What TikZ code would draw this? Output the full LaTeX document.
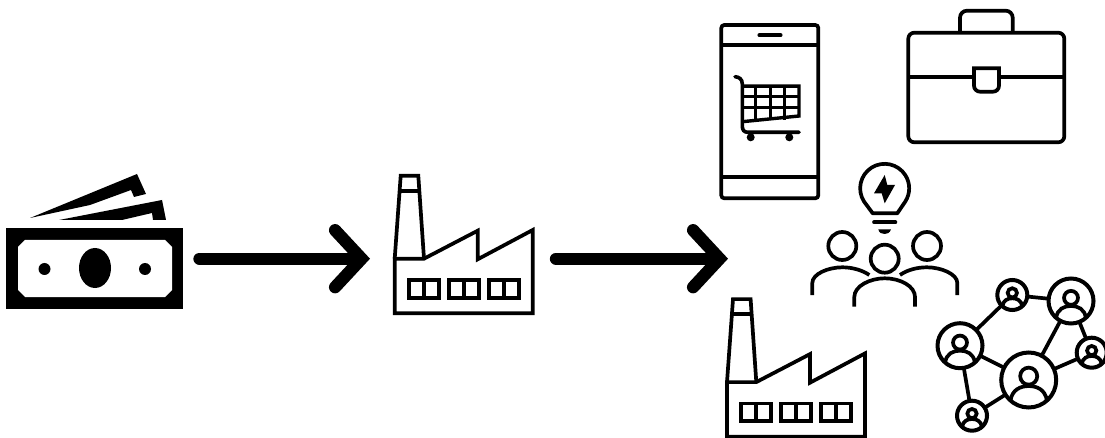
\documentclass[tikz,border=0pt]{standalone}
\usetikzlibrary{arrows.meta}
\tikzset{
  outline/.style={line width=3.7pt},
  bigarrow/.style={line width=12.3pt, line cap=round, -{Straight Barb[length=26.5pt, width=57pt, line cap=round, line join=miter]}},
  factory/.pic={
    % cheminee
    \draw[outline] (0,-54.6) -- (6,-137.6) -- (23.6,-137.6) -- (29.3,-54.6);
    \draw[outline] (5,-122.6) -- (24.6,-122.6);
    % toit et murs
    \draw[outline] (0,-54.6) -- (29.3,-54.6) -- (83,-82.6) -- (83,-54) -- (138,-83.3) -- (138,0) -- (0,0) -- cycle;
    % fenetres
    \foreach \winx in {14,54,94.3} {
      \draw[outline] (\winx,-33.3) rectangle +(30,17.7);
      \draw[outline] (\winx+15,-33.3) -- +(0,17.7);
    }
  },
  contact/.pic={
    \draw[line width=3.7pt] (0,-.14) circle[radius=.31];
    \draw[line width=3.7pt] (-.66,.74) .. controls (-.6,.35) and (-.3,.22) .. (0,.22) .. controls (.3,.22) and (.6,.35) .. (.66,.74);
  },
  member/.style={draw, circle, line width=4pt, inner sep=0pt, outer sep=0pt},
}
\begin{document}
\begin{tikzpicture}[x=1pt, y=-1pt]
\useasboundingbox (0,0) rectangle (1105,438);
% Billets
\node[fill=black, inner sep=0pt, minimum width=177pt, minimum height=81pt] (money) at (94.5,268.5) {};
\fill[white] (25,240) -- (165,240) -- (172,247) -- (172,290) -- (165,297) -- (25,297) -- (18,290) -- (18,247) -- cycle;
\fill (95,268) ellipse[x radius=16, y radius=20];
\fill (44.5,269) circle[radius=6];
\fill (145,269) circle[radius=6];
\fill (30,218) -- (137,174) -- (146,194) -- (134,197) -- (131,190) -- (90,205) -- cycle;
\fill (59,220) -- (162,200) -- (166,220) -- (153,220) -- (152,213) -- (122,220) -- cycle;
% Usines
\pic (factoryA) at (394.7,313.3) {factory};
\pic (factoryB) at (727,436.7) {factory};
% Fleches
\coordinate (moneyout) at (199.5,258.7);
\coordinate (factoryin) at (370,258.7);
\coordinate (factoryout) at (556,258.7);
\coordinate (results) at (728,258.7);
\draw[bigarrow] (moneyout) -- (factoryin);
\draw[bigarrow] (factoryout) -- (results);
% Telephone
\draw[outline, rounded corners=3pt] (721.3,25) rectangle (818.3,198.3);
\draw[outline] (721.3,45) -- (818.3,45);
\draw[outline] (721.3,177.3) -- (818.3,177.3);
\draw[outline, line cap=round] (759.3,35.3) -- (780.7,35.3);
% Chariot
\draw[line width=3.6pt, line cap=round] (735,76.7) .. controls (739,77) and (742.3,79) .. (742.3,84) -- (742.3,126) .. controls (742.3,130) and (744,132.3) .. (748,132.3) -- (799,132.3);
\draw[line width=3.4pt] (742.3,86.2) -- (799,86.2) -- (799,116) -- (742.3,121.7);
\draw[line width=3pt] (742.3,97) -- (799,97);
\draw[line width=3pt] (742.3,107.3) -- (799,107.3);
\foreach \barx in {755,770,784} {
  \draw[line width=3pt] (\barx,86.2) -- (\barx,120);
}
\fill (750.7,137.3) circle[radius=4];
\fill (789.3,137.3) circle[radius=4];
% Mallette
\draw[outline, rounded corners=6pt] (908.3,32.7) rectangle (1064.3,142.3);
\draw[outline, rounded corners=7pt] (960,32.7) -- (960,10.7) -- (1012.7,10.7) -- (1012.7,32.7);
\draw[outline] (908.3,77.3) -- (1064.3,77.3);
\draw[outline, fill=white] (974,68.3) [rounded corners=6pt] -- (974,91.7) -- (999,91.7) [sharp corners] -- (999,68.3) -- cycle;
% Ampoule
\draw[outline, line join=round] (872.7,213.3) -- (864,201.5) arc[start angle=147.5, end angle=392.5, radius=24.5] -- (897.3,213.3) -- cycle;
\fill (884.7,175) -- (874,193.3) -- (881.7,193.3) -- (884.7,203.3) -- (895,185) -- (887.3,185) -- cycle;
\draw[outline, line cap=round] (874,222.3) -- (895.4,222.3);
\fill (878.3,229.3) -- (891,229.3) .. controls (890,233) and (887,234) .. (884.7,234) .. controls (882,234) and (879,233) .. (878.3,229.3) -- cycle;
% Equipe
\node[member, line width=3.7pt, minimum size=28pt] (headL) at (842.3,246) {};
\node[member, line width=3.7pt, minimum size=28pt] (headR) at (927,246) {};
\node[member, line width=3.7pt, minimum size=28pt] (headC) at (884.7,258.7) {};
\draw[outline] (854.3,306.7) -- (854.3,297) .. controls (854.3,286) and (870,278.3) .. (884.7,278.3) .. controls (900,278.3) and (915,286) .. (915,297) -- (915,306.7);
\draw[outline] (812.3,295) -- (812.3,283) .. controls (812.3,274) and (828,267.3) .. (842.3,267.3) .. controls (852,267.3) and (862,270) .. (869.3,275);
\draw[outline] (957.3,295) -- (957.3,283) .. controls (957.3,274) and (941,267.3) .. (927,267.3) .. controls (917,267.3) and (907,270) .. (900,275);
% Reseau
\node[member, minimum size=45pt] (netA) at (960,345.7) {};
\node[member, minimum size=30pt] (netB) at (1012.3,295) {};
\node[member, minimum size=45pt] (netC) at (1071,301) {};
\node[member, minimum size=30pt] (netD) at (1091.7,352.7) {};
\node[member, minimum size=55pt] (netE) at (1028.7,380) {};
\node[member, minimum size=30pt] (netF) at (972,415.7) {};
\pic[scale=22.5] at (960,345.7) {contact};
\pic[scale=15] at (1012.3,295) {contact};
\pic[scale=22.5] at (1071,301) {contact};
\pic[scale=15] at (1091.7,352.7) {contact};
\pic[scale=27.5] at (1028.7,380) {contact};
\pic[scale=15] at (972,415.7) {contact};
\draw[outline] (netA) -- (netB);
\draw[outline] (netB) -- (netC);
\draw[outline] (netC) -- (netE);
\draw[outline] (netC) -- (netD);
\draw[outline] (netD) -- (netE);
\draw[outline] (netA) -- (netE);
\draw[outline] (netA) -- (netF);
\draw[outline] (netF) -- (netE);
\end{tikzpicture}
\end{document}
